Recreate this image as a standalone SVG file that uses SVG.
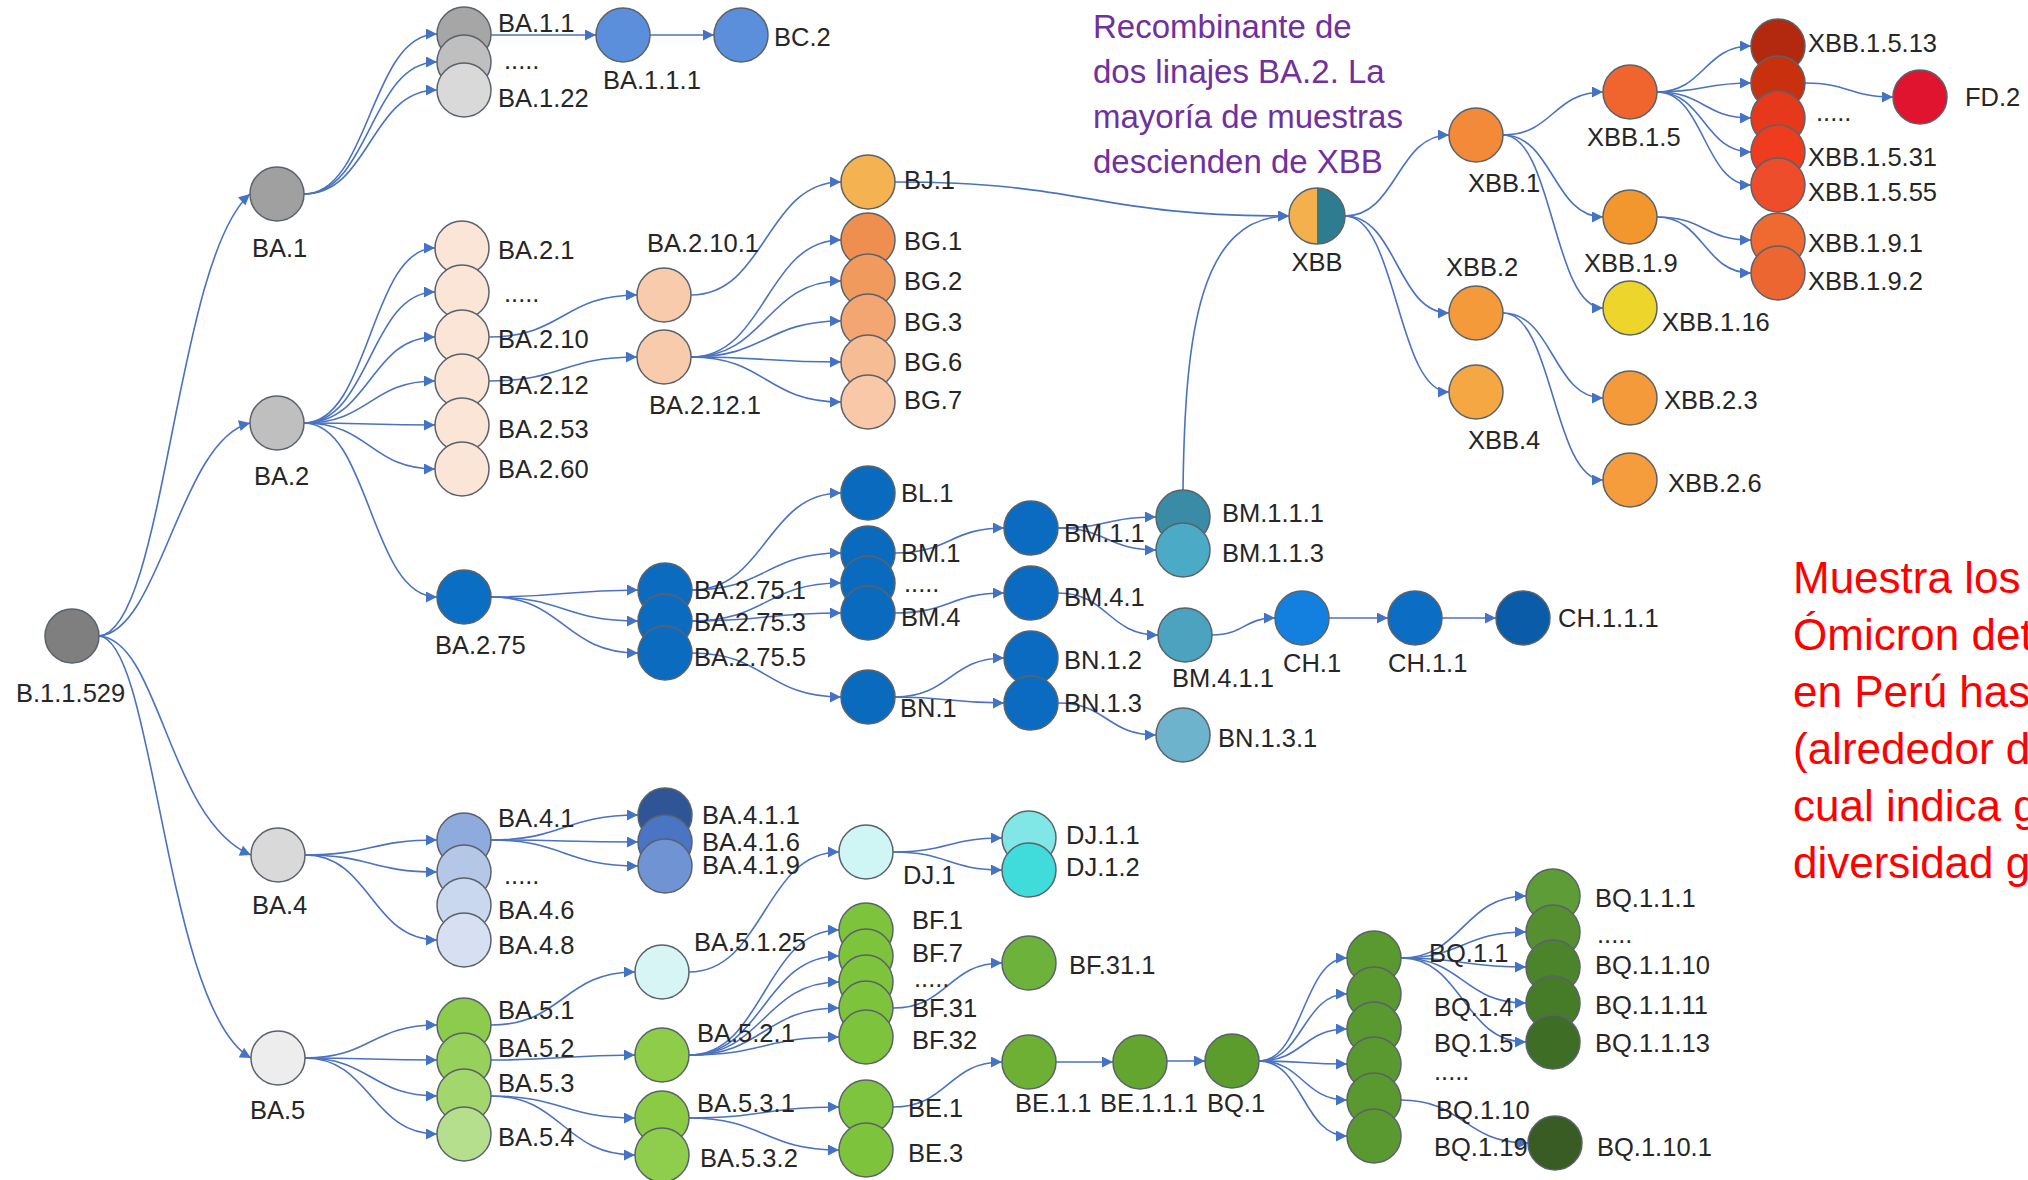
<svg xmlns="http://www.w3.org/2000/svg" width="2028" height="1180" viewBox="0 0 2028 1180">
<style>
.l{font-family:"Liberation Sans",Arial,sans-serif;font-size:25.5px;fill:#262626}
.c{stroke:#5a626c;stroke-width:1.5}
.e{fill:none;stroke:#4a72c0;stroke-width:1.6}
.p{font-family:"Liberation Sans",Arial,sans-serif;font-size:33px;fill:#7030A0}
.r{font-family:"Liberation Sans",Arial,sans-serif;font-size:44px;fill:#FF0000}
</style>
<defs>
<marker id="ah" viewBox="0 0 10 10" refX="10" refY="5" markerWidth="13" markerHeight="11" markerUnits="userSpaceOnUse" orient="auto"><path d="M0,0 L10,5 L0,10 z" fill="#4472C4"/></marker>
</defs>
<rect width="2028" height="1180" fill="#ffffff"/>
<g id="connectors" class="e" marker-end="url(#ah)">
<path d="M99,636 C165,630 175,260 250,194"/>
<path d="M99,636 C160,632 180,440 250,423"/>
<path d="M99,636 C160,640 168,820 251,855"/>
<path d="M99,636 C155,640 165,1010 251,1058"/>
<path d="M304,194 C370,194 370,34 437,34"/>
<path d="M304,194 C370,194 370,62 437,62"/>
<path d="M304,194 C370,194 370,90 437,90"/>
<path d="M491,35 L596,35"/>
<path d="M650,35 L714,35"/>
<path d="M304,423 C370,423 370,248 435,248"/>
<path d="M304,423 C370,423 370,292 435,292"/>
<path d="M304,423 C370,423 370,337 435,337"/>
<path d="M304,423 C370,423 370,381 435,381"/>
<path d="M304,423 C370,423 370,425 435,425"/>
<path d="M304,423 C370,423 370,469 435,469"/>
<path d="M304,423 C370,423 370,597 437,597"/>
<path d="M489,337 C563,337 563,295 637,295"/>
<path d="M489,381 C563,381 563,357 637,357"/>
<path d="M691,295 C766,295 766,182 841,182"/>
<path d="M691,357 C766,357 766,240 841,240"/>
<path d="M691,357 C766,357 766,281 841,281"/>
<path d="M691,357 C766,357 766,321 841,321"/>
<path d="M691,357 C766,357 766,362 841,362"/>
<path d="M691,357 C766,357 766,402 841,402"/>
<path d="M895,182 C1090,182 1090,216 1289,216"/>
<path d="M1183,490 C1185,330 1200,216 1289,216"/>
<path d="M1345,216 C1397,216 1397,135 1449,135"/>
<path d="M1345,216 C1397,216 1397,313 1449,313"/>
<path d="M1345,216 C1397,216 1397,392 1449,392"/>
<path d="M1503,135 C1553,135 1553,92 1603,92"/>
<path d="M1503,135 C1553,135 1553,217 1603,217"/>
<path d="M1503,135 C1553,135 1553,308 1603,308"/>
<path d="M1503,313 C1553,313 1553,398 1603,398"/>
<path d="M1503,313 C1553,313 1553,480 1603,480"/>
<path d="M1657,92 C1704,92 1704,46 1751,46"/>
<path d="M1657,92 C1704,92 1704,83 1751,83"/>
<path d="M1657,92 C1704,92 1704,118 1751,118"/>
<path d="M1657,92 C1704,92 1704,152 1751,152"/>
<path d="M1657,92 C1704,92 1704,185 1751,185"/>
<path d="M1805,83 C1849,83 1849,97 1893,97"/>
<path d="M1657,217 C1704,217 1704,240 1751,240"/>
<path d="M1657,217 C1704,217 1704,273 1751,273"/>
<path d="M491,597 C564,597 564,590 638,590"/>
<path d="M491,597 C564,597 564,621 638,621"/>
<path d="M491,597 C564,597 564,653 638,653"/>
<path d="M692,590 C766,590 766,493 841,493"/>
<path d="M692,590 C766,590 766,553 841,553"/>
<path d="M692,621 C766,621 766,583 841,583"/>
<path d="M692,621 C766,621 766,613 841,613"/>
<path d="M692,653 C766,653 766,697 841,697"/>
<path d="M895,553 C950,553 950,528 1004,528"/>
<path d="M895,613 C950,613 950,593 1004,593"/>
<path d="M895,697 C950,697 950,658 1004,658"/>
<path d="M895,697 C950,697 950,703 1004,703"/>
<path d="M1058,528 C1107,528 1107,517 1156,517"/>
<path d="M1058,528 C1107,528 1107,550 1156,550"/>
<path d="M1058,593 C1108,593 1108,635 1158,635"/>
<path d="M1058,703 C1107,703 1107,735 1156,735"/>
<path d="M1212,635 C1244,635 1244,618 1275,618"/>
<path d="M1329,618 L1388,618"/>
<path d="M1442,618 L1496,618"/>
<path d="M305,855 C371,855 371,840 437,840"/>
<path d="M305,855 C371,855 371,872 437,872"/>
<path d="M305,855 C371,855 371,940 437,940"/>
<path d="M491,840 C564,840 564,815 638,815"/>
<path d="M491,840 C564,840 564,842 638,842"/>
<path d="M491,840 C564,840 564,866 638,866"/>
<path d="M689,972 C764,972 764,852 839,852"/>
<path d="M893,852 C948,852 948,838 1002,838"/>
<path d="M893,852 C948,852 948,870 1002,870"/>
<path d="M305,1058 C371,1058 371,1025 437,1025"/>
<path d="M305,1058 C371,1058 371,1060 437,1060"/>
<path d="M305,1058 C371,1058 371,1096 437,1096"/>
<path d="M305,1058 C371,1058 371,1134 437,1134"/>
<path d="M491,1025 C563,1025 563,972 635,972"/>
<path d="M491,1060 C563,1060 563,1055 635,1055"/>
<path d="M491,1096 C563,1096 563,1118 635,1118"/>
<path d="M491,1096 C563,1096 563,1155 635,1155"/>
<path d="M689,1055 C764,1055 764,930 839,930"/>
<path d="M689,1055 C764,1055 764,956 839,956"/>
<path d="M689,1055 C764,1055 764,982 839,982"/>
<path d="M689,1055 C764,1055 764,1008 839,1008"/>
<path d="M689,1055 C764,1055 764,1037 839,1037"/>
<path d="M893,1008 C948,1008 948,963 1002,963"/>
<path d="M689,1118 C764,1118 764,1107 839,1107"/>
<path d="M689,1118 C764,1118 764,1150 839,1150"/>
<path d="M893,1107 C948,1107 948,1062 1002,1062"/>
<path d="M1056,1062 L1113,1062"/>
<path d="M1167,1061 L1205,1061"/>
<path d="M1259,1061 C1303,1061 1303,958 1347,958"/>
<path d="M1259,1061 C1303,1061 1303,994 1347,994"/>
<path d="M1259,1061 C1303,1061 1303,1029 1347,1029"/>
<path d="M1259,1061 C1303,1061 1303,1064 1347,1064"/>
<path d="M1259,1061 C1303,1061 1303,1100 1347,1100"/>
<path d="M1259,1061 C1303,1061 1303,1136 1347,1136"/>
<path d="M1401,958 C1463,958 1463,896 1526,896"/>
<path d="M1401,958 C1463,958 1463,932 1526,932"/>
<path d="M1401,958 C1463,958 1463,967 1526,967"/>
<path d="M1401,958 C1463,958 1463,1003 1526,1003"/>
<path d="M1401,958 C1463,958 1463,1042 1526,1042"/>
<path d="M1401,1100 C1464,1100 1464,1143 1528,1143"/>
</g>

<g id="n-B.1.1.529"><circle class="c" cx="72" cy="636" r="27" fill="#7F7F7F"/><text class="l" x="16" y="702">B.1.1.529</text></g>
<g id="n-BA.1"><circle class="c" cx="277" cy="194" r="27" fill="#A0A0A0"/><text class="l" x="252" y="257">BA.1</text></g>
<g id="n-BA.2"><circle class="c" cx="277" cy="423" r="27" fill="#BFBFBF"/><text class="l" x="254" y="485">BA.2</text></g>
<g id="n-BA.4"><circle class="c" cx="278" cy="855" r="27" fill="#D9D9D9"/><text class="l" x="252" y="914">BA.4</text></g>
<g id="n-BA.5"><circle class="c" cx="278" cy="1058" r="27" fill="#EDEDED"/><text class="l" x="250" y="1119">BA.5</text></g>

<g id="n-BA.1.1"><circle class="c" cx="464" cy="34" r="27" fill="#A6A6A6"/><text class="l" x="498" y="32">BA.1.1</text></g>
<g id="n-BA.1.x"><circle class="c" cx="464" cy="62" r="27" fill="#BFBFBF"/><text class="l" x="504" y="69">.....</text></g>
<g id="n-BA.1.22"><circle class="c" cx="464" cy="90" r="27" fill="#D9D9D9"/><text class="l" x="498" y="107">BA.1.22</text></g>
<g id="n-BA.1.1.1"><circle class="c" cx="623" cy="35" r="27" fill="#5B8FDB"/><text class="l" x="603" y="89">BA.1.1.1</text></g>
<g id="n-BC.2"><circle class="c" cx="741" cy="35" r="27" fill="#5B8FDB"/><text class="l" x="774" y="46">BC.2</text></g>

<g id="n-BA.2.1"><circle class="c" cx="462" cy="248" r="27" fill="#FBE5D6"/><text class="l" x="498" y="259">BA.2.1</text></g>
<g id="n-BA.2.x"><circle class="c" cx="462" cy="292" r="27" fill="#FBE5D6"/><text class="l" x="504" y="302">.....</text></g>
<g id="n-BA.2.10"><circle class="c" cx="462" cy="337" r="27" fill="#FBE5D6"/><text class="l" x="498" y="348">BA.2.10</text></g>
<g id="n-BA.2.12"><circle class="c" cx="462" cy="381" r="27" fill="#FBE5D6"/><text class="l" x="498" y="394">BA.2.12</text></g>
<g id="n-BA.2.53"><circle class="c" cx="462" cy="425" r="27" fill="#FBE5D6"/><text class="l" x="498" y="438">BA.2.53</text></g>
<g id="n-BA.2.60"><circle class="c" cx="462" cy="469" r="27" fill="#FBE5D6"/><text class="l" x="498" y="478">BA.2.60</text></g>
<g id="n-BA.2.10.1"><circle class="c" cx="664" cy="295" r="27" fill="#F8CBAD"/><text class="l" x="647" y="252">BA.2.10.1</text></g>
<g id="n-BA.2.12.1"><circle class="c" cx="664" cy="357" r="27" fill="#F8CBAD"/><text class="l" x="649" y="414">BA.2.12.1</text></g>
<g id="n-BJ.1"><circle class="c" cx="868" cy="182" r="27" fill="#F4B350"/><text class="l" x="904" y="189">BJ.1</text></g>
<g id="n-BG.1"><circle class="c" cx="868" cy="240" r="27" fill="#EE8F4F"/><text class="l" x="904" y="250">BG.1</text></g>
<g id="n-BG.2"><circle class="c" cx="868" cy="281" r="27" fill="#F19A5E"/><text class="l" x="904" y="290">BG.2</text></g>
<g id="n-BG.3"><circle class="c" cx="868" cy="321" r="27" fill="#F3A671"/><text class="l" x="904" y="331">BG.3</text></g>
<g id="n-BG.6"><circle class="c" cx="868" cy="362" r="27" fill="#F6BC94"/><text class="l" x="904" y="371">BG.6</text></g>
<g id="n-BG.7"><circle class="c" cx="868" cy="402" r="27" fill="#F8C8A8"/><text class="l" x="904" y="409">BG.7</text></g>

<g id="n-XBB"><path d="M1317,188 A28,28 0 0 0 1317,244 Z" fill="#F4B04C"/><path d="M1317,188 A28,28 0 0 1 1317,244 Z" fill="#2E7C8F"/><circle class="c" cx="1317" cy="216" r="28" fill="none"/><text class="l" x="1317" y="271" text-anchor="middle">XBB</text></g>
<g id="n-XBB.1"><circle class="c" cx="1476" cy="135" r="27" fill="#F28A3A"/><text class="l" x="1468" y="192">XBB.1</text></g>
<g id="n-XBB.2"><circle class="c" cx="1476" cy="313" r="27" fill="#F59A3A"/><text class="l" x="1446" y="276">XBB.2</text></g>
<g id="n-XBB.4"><circle class="c" cx="1476" cy="392" r="27" fill="#F4A742"/><text class="l" x="1468" y="449">XBB.4</text></g>
<g id="n-XBB.1.5"><circle class="c" cx="1630" cy="92" r="27" fill="#F0642E"/><text class="l" x="1587" y="146">XBB.1.5</text></g>
<g id="n-XBB.1.9"><circle class="c" cx="1630" cy="217" r="27" fill="#F2962E"/><text class="l" x="1584" y="272">XBB.1.9</text></g>
<g id="n-XBB.1.16"><circle class="c" cx="1630" cy="308" r="27" fill="#EED52C"/><text class="l" x="1662" y="331">XBB.1.16</text></g>
<g id="n-XBB.2.3"><circle class="c" cx="1630" cy="398" r="27" fill="#F49A3A"/><text class="l" x="1664" y="409">XBB.2.3</text></g>
<g id="n-XBB.2.6"><circle class="c" cx="1630" cy="480" r="27" fill="#F59C3C"/><text class="l" x="1668" y="492">XBB.2.6</text></g>
<g id="n-XBB.1.5.13"><circle class="c" cx="1778" cy="46" r="27" fill="#B3290F"/><text class="l" x="1808" y="52">XBB.1.5.13</text></g>
<g id="n-XBB.1.5.x1"><circle class="c" cx="1778" cy="83" r="27" fill="#C8300E"/></g>
<g id="n-XBB.1.5.x2"><circle class="c" cx="1778" cy="118" r="27" fill="#E6381A"/><text class="l" x="1816" y="121">.....</text></g>
<g id="n-XBB.1.5.31"><circle class="c" cx="1778" cy="152" r="27" fill="#F03C1E"/><text class="l" x="1808" y="166">XBB.1.5.31</text></g>
<g id="n-XBB.1.5.55"><circle class="c" cx="1778" cy="185" r="27" fill="#EE4D2C"/><text class="l" x="1808" y="201">XBB.1.5.55</text></g>
<g id="n-XBB.1.9.1"><circle class="c" cx="1778" cy="240" r="27" fill="#EE6A30"/><text class="l" x="1808" y="252">XBB.1.9.1</text></g>
<g id="n-XBB.1.9.2"><circle class="c" cx="1778" cy="273" r="27" fill="#EC6631"/><text class="l" x="1808" y="290">XBB.1.9.2</text></g>
<g id="n-FD.2"><circle class="c" cx="1920" cy="97" r="27" fill="#E0142E"/><text class="l" x="1965" y="106">FD.2</text></g>

<g id="n-BA.2.75"><circle class="c" cx="464" cy="597" r="27" fill="#0A6EC2"/><text class="l" x="435" y="654">BA.2.75</text></g>
<g id="n-BA.2.75.1"><circle class="c" cx="665" cy="590" r="27" fill="#0B6BBF"/><text class="l" x="694" y="599">BA.2.75.1</text></g>
<g id="n-BA.2.75.3"><circle class="c" cx="665" cy="621" r="27" fill="#0B6BBF"/><text class="l" x="694" y="631">BA.2.75.3</text></g>
<g id="n-BA.2.75.5"><circle class="c" cx="665" cy="653" r="27" fill="#0B6BBF"/><text class="l" x="694" y="666">BA.2.75.5</text></g>
<g id="n-BL.1"><circle class="c" cx="868" cy="493" r="27" fill="#0A6BBE"/><text class="l" x="901" y="502">BL.1</text></g>
<g id="n-BM.1"><circle class="c" cx="868" cy="553" r="27" fill="#0A6BBE"/><text class="l" x="901" y="562">BM.1</text></g>
<g id="n-BM.x"><circle class="c" cx="868" cy="583" r="27" fill="#0A6BBE"/><text class="l" x="904" y="592">.....</text></g>
<g id="n-BM.4"><circle class="c" cx="868" cy="613" r="27" fill="#0A6BBE"/><text class="l" x="901" y="626">BM.4</text></g>
<g id="n-BN.1"><circle class="c" cx="868" cy="697" r="27" fill="#0A6BBE"/><text class="l" x="900" y="717">BN.1</text></g>
<g id="n-BM.1.1"><circle class="c" cx="1031" cy="528" r="27" fill="#0B6BC0"/><text class="l" x="1064" y="542">BM.1.1</text></g>
<g id="n-BM.4.1"><circle class="c" cx="1031" cy="593" r="27" fill="#0B6BC0"/><text class="l" x="1064" y="606">BM.4.1</text></g>
<g id="n-BN.1.2"><circle class="c" cx="1031" cy="658" r="27" fill="#0B6BC0"/><text class="l" x="1064" y="669">BN.1.2</text></g>
<g id="n-BN.1.3"><circle class="c" cx="1031" cy="703" r="27" fill="#0B6BC0"/><text class="l" x="1064" y="712">BN.1.3</text></g>
<g id="n-BM.1.1.1"><circle class="c" cx="1183" cy="517" r="27" fill="#3A8BA6"/><text class="l" x="1222" y="522">BM.1.1.1</text></g>
<g id="n-BM.1.1.3"><circle class="c" cx="1183" cy="550" r="27" fill="#4BAAC6"/><text class="l" x="1222" y="562">BM.1.1.3</text></g>
<g id="n-BM.4.1.1"><circle class="c" cx="1185" cy="635" r="27" fill="#4BA3C0"/><text class="l" x="1172" y="687">BM.4.1.1</text></g>
<g id="n-BN.1.3.1"><circle class="c" cx="1183" cy="735" r="27" fill="#6DB3CC"/><text class="l" x="1218" y="747">BN.1.3.1</text></g>
<g id="n-CH.1"><circle class="c" cx="1302" cy="618" r="27" fill="#1380E0"/><text class="l" x="1283" y="672">CH.1</text></g>
<g id="n-CH.1.1"><circle class="c" cx="1415" cy="618" r="27" fill="#0B6DC4"/><text class="l" x="1388" y="672">CH.1.1</text></g>
<g id="n-CH.1.1.1"><circle class="c" cx="1523" cy="618" r="27" fill="#0B5CA8"/><text class="l" x="1558" y="627">CH.1.1.1</text></g>

<g id="n-BA.4.1"><circle class="c" cx="464" cy="840" r="27" fill="#8FAADC"/><text class="l" x="498" y="827">BA.4.1</text></g>
<g id="n-BA.4.x"><circle class="c" cx="464" cy="872" r="27" fill="#B4C7E7"/><text class="l" x="504" y="884">.....</text></g>
<g id="n-BA.4.6"><circle class="c" cx="464" cy="905" r="27" fill="#C9D7EF"/><text class="l" x="498" y="919">BA.4.6</text></g>
<g id="n-BA.4.8"><circle class="c" cx="464" cy="940" r="27" fill="#D6E0F2"/><text class="l" x="498" y="954">BA.4.8</text></g>
<g id="n-BA.4.1.1"><circle class="c" cx="665" cy="815" r="27" fill="#2F5597"/><text class="l" x="702" y="824">BA.4.1.1</text></g>
<g id="n-BA.4.1.6"><circle class="c" cx="665" cy="842" r="27" fill="#4A74C4"/><text class="l" x="702" y="851">BA.4.1.6</text></g>
<g id="n-BA.4.1.9"><circle class="c" cx="665" cy="866" r="27" fill="#7093D4"/><text class="l" x="702" y="874">BA.4.1.9</text></g>
<g id="n-DJ.1"><circle class="c" cx="866" cy="852" r="27" fill="#CFF5F5"/><text class="l" x="903" y="884">DJ.1</text></g>
<g id="n-DJ.1.1"><circle class="c" cx="1029" cy="838" r="27" fill="#80E6E6"/><text class="l" x="1066" y="844">DJ.1.1</text></g>
<g id="n-DJ.1.2"><circle class="c" cx="1029" cy="870" r="27" fill="#40DCDC"/><text class="l" x="1066" y="876">DJ.1.2</text></g>

<g id="n-BA.5.1"><circle class="c" cx="464" cy="1025" r="27" fill="#8CCB4B"/><text class="l" x="498" y="1019">BA.5.1</text></g>
<g id="n-BA.5.2"><circle class="c" cx="464" cy="1060" r="27" fill="#97D05A"/><text class="l" x="498" y="1057">BA.5.2</text></g>
<g id="n-BA.5.3"><circle class="c" cx="464" cy="1096" r="27" fill="#A4D66E"/><text class="l" x="498" y="1092">BA.5.3</text></g>
<g id="n-BA.5.4"><circle class="c" cx="464" cy="1134" r="27" fill="#B5DF8D"/><text class="l" x="498" y="1146">BA.5.4</text></g>
<g id="n-BA.5.1.25"><circle class="c" cx="662" cy="972" r="27" fill="#D7F5F5"/><text class="l" x="694" y="951">BA.5.1.25</text></g>
<g id="n-BA.5.2.1"><circle class="c" cx="662" cy="1055" r="27" fill="#8FCC49"/><text class="l" x="697" y="1042">BA.5.2.1</text></g>
<g id="n-BA.5.3.1"><circle class="c" cx="662" cy="1118" r="27" fill="#8ACA45"/><text class="l" x="697" y="1112">BA.5.3.1</text></g>
<g id="n-BA.5.3.2"><circle class="c" cx="662" cy="1155" r="27" fill="#8FCD4D"/><text class="l" x="700" y="1167">BA.5.3.2</text></g>
<g id="n-BF.1"><circle class="c" cx="866" cy="930" r="27" fill="#7DC33C"/><text class="l" x="912" y="929">BF.1</text></g>
<g id="n-BF.7"><circle class="c" cx="866" cy="956" r="27" fill="#7DC33C"/><text class="l" x="912" y="962">BF.7</text></g>
<g id="n-BF.x"><circle class="c" cx="866" cy="982" r="27" fill="#7DC33C"/><text class="l" x="914" y="987">.....</text></g>
<g id="n-BF.31"><circle class="c" cx="866" cy="1008" r="27" fill="#7DC33C"/><text class="l" x="912" y="1017">BF.31</text></g>
<g id="n-BF.32"><circle class="c" cx="866" cy="1037" r="27" fill="#7DC33C"/><text class="l" x="912" y="1049">BF.32</text></g>
<g id="n-BF.31.1"><circle class="c" cx="1029" cy="963" r="27" fill="#6DB23A"/><text class="l" x="1069" y="974">BF.31.1</text></g>
<g id="n-BE.1"><circle class="c" cx="866" cy="1107" r="27" fill="#7FC43E"/><text class="l" x="908" y="1117">BE.1</text></g>
<g id="n-BE.3"><circle class="c" cx="866" cy="1150" r="27" fill="#7DC33C"/><text class="l" x="908" y="1162">BE.3</text></g>
<g id="n-BE.1.1"><circle class="c" cx="1029" cy="1062" r="27" fill="#6DB033"/><text class="l" x="1015" y="1112">BE.1.1</text></g>
<g id="n-BE.1.1.1"><circle class="c" cx="1140" cy="1062" r="27" fill="#63A52E"/><text class="l" x="1100" y="1112">BE.1.1.1</text></g>
<g id="n-BQ.1"><circle class="c" cx="1232" cy="1061" r="27" fill="#5C9C2C"/><text class="l" x="1207" y="1112">BQ.1</text></g>
<g id="n-BQ.1.1"><circle class="c" cx="1374" cy="958" r="27" fill="#5A992F"/><text class="l" x="1429" y="962">BQ.1.1</text></g>
<g id="n-BQ.1.4"><circle class="c" cx="1374" cy="994" r="27" fill="#5A992F"/><text class="l" x="1434" y="1016">BQ.1.4</text></g>
<g id="n-BQ.1.5"><circle class="c" cx="1374" cy="1029" r="27" fill="#5A992F"/><text class="l" x="1434" y="1052">BQ.1.5</text></g>
<g id="n-BQ.1.x"><circle class="c" cx="1374" cy="1064" r="27" fill="#5A992F"/><text class="l" x="1434" y="1080">.....</text></g>
<g id="n-BQ.1.10"><circle class="c" cx="1374" cy="1100" r="27" fill="#5A992F"/><text class="l" x="1436" y="1119">BQ.1.10</text></g>
<g id="n-BQ.1.19"><circle class="c" cx="1374" cy="1136" r="27" fill="#5A992F"/><text class="l" x="1434" y="1156">BQ.1.19</text></g>
<g id="n-BQ.1.1.1"><circle class="c" cx="1553" cy="896" r="27" fill="#5D9C36"/><text class="l" x="1595" y="907">BQ.1.1.1</text></g>
<g id="n-BQ.1.1.x"><circle class="c" cx="1553" cy="932" r="27" fill="#568F30"/><text class="l" x="1597" y="943">.....</text></g>
<g id="n-BQ.1.1.10"><circle class="c" cx="1553" cy="967" r="27" fill="#4C842C"/><text class="l" x="1595" y="974">BQ.1.1.10</text></g>
<g id="n-BQ.1.1.11"><circle class="c" cx="1553" cy="1003" r="27" fill="#467B28"/><text class="l" x="1595" y="1014">BQ.1.1.11</text></g>
<g id="n-BQ.1.1.13"><circle class="c" cx="1553" cy="1042" r="27" fill="#3E6E25"/><text class="l" x="1595" y="1052">BQ.1.1.13</text></g>
<g id="n-BQ.1.10.1"><circle class="c" cx="1555" cy="1143" r="27" fill="#385C24"/><text class="l" x="1597" y="1156">BQ.1.10.1</text></g>

<g id="note-xbb">
<text class="p" x="1093" y="38">Recombinante de</text>
<text class="p" x="1093" y="83">dos linajes BA.2. La</text>
<text class="p" x="1093" y="128">mayoría de muestras</text>
<text class="p" x="1093" y="173">descienden de XBB</text>
</g>
<g id="note-omicron">
<text class="r" x="1793" y="593">Muestra los</text>
<text class="r" x="1793" y="650">Ómicron det</text>
<text class="r" x="1793" y="707">en Perú hast</text>
<text class="r" x="1793" y="764">(alrededor d</text>
<text class="r" x="1793" y="821">cual indica g</text>
<text class="r" x="1793" y="878">diversidad g</text>
</g>
</svg>
